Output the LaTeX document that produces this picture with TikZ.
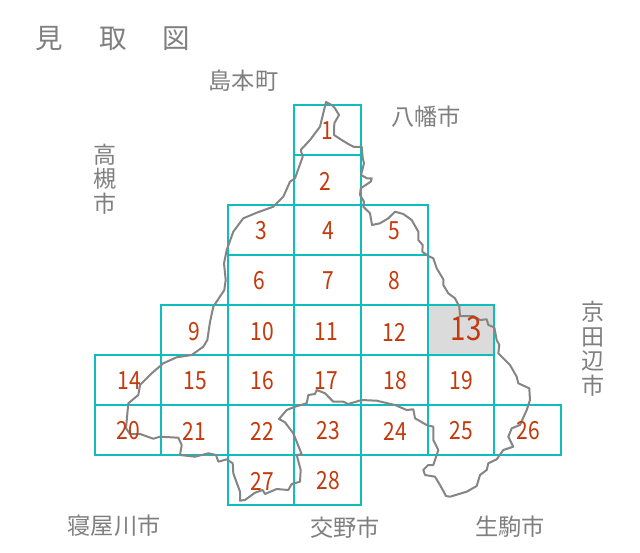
\documentclass[tikz,border=0pt]{standalone}
\usepackage{fontspec}
\setmainfont{Noto Sans CJK JP}
\newfontfamily\numfont[FakeStretch=0.84]{Noto Sans CJK JP}
\definecolor{gridc}{HTML}{10BDBD}
\definecolor{numc}{HTML}{C43A0C}
\definecolor{linec}{HTML}{858585}
\definecolor{labc}{HTML}{7F7F7F}
\definecolor{hilite}{HTML}{DBDBDB}
\tikzset{
  cell/.style={draw=gridc,line width=1.7pt},
  num/.style={text=numc,inner sep=0pt,font=\numfont\fontsize{25}{25}\selectfont},
  bignum/.style={text=numc,inner sep=0pt,font=\numfont\fontsize{33}{33}\selectfont},
  lab/.style={text=labc,inner sep=0pt,font=\fontsize{23.2}{23.2}\selectfont},
  vlab/.style={lab,align=center,font=\fontsize{23}{24.5}\selectfont},
  ttl/.style={text=labc,inner sep=0pt,font=\fontsize{27.5}{27.5}\selectfont},
  outline/.style={draw=linec,line width=2pt,line join=round}
}
\begin{document}
\begin{tikzpicture}[x=1pt,y=-1pt]
\useasboundingbox (0,0) rectangle (640,552);
\fill[white] (0,0) rectangle (640,552);
\fill[hilite] (428,305) rectangle (494,355);
\foreach \xa/\ya/\xb/\yb in {
 294/105/361/155, 294/155/361/205,
 228/205/294/255, 294/205/361/255, 361/205/428/255,
 228/255/294/305, 294/255/361/305, 361/255/428/305,
 161/305/228/355, 228/305/294/355, 294/305/361/355, 361/305/428/355, 428/305/494/355,
 95/355/161/405, 161/355/228/405, 228/355/294/405, 294/355/361/405, 361/355/428/405, 428/355/494/405,
 95/405/161/455, 161/405/228/455, 228/405/294/455, 294/405/361/455, 361/405/428/455, 428/405/494/455, 494/405/561/455,
 228/455/294/505, 294/455/361/505}
 {\draw[cell] (\xa,\ya) rectangle (\xb,\yb);}
\draw[outline] (326,102) -- (331.7,105) -- (335,108.3) -- (339,115) -- (334.3,123.3) -- (334,135) -- (341.7,140) -- (348.3,144) -- (354,147) -- (361.7,146.7) -- (362.7,158) -- (364,163.3) -- (361,175) -- (367,178.3) -- (371.7,178.3) -- (370.7,181.7) -- (360.7,188.3) -- (360,195) -- (364,201.7) -- (363.3,206.7) -- (370,213.3) -- (372,225) -- (380,223.3) -- (388.3,218.3) -- (395,211.7) -- (403.3,214) -- (411.7,220) -- (418.3,231.7) -- (418.3,240) -- (422.7,245) -- (422.3,251.7) -- (428.3,256) -- (433.3,258.3) -- (436.7,268.3) -- (443.3,279.3) -- (443.3,285) -- (448.3,293.3) -- (455,298.3) -- (459.3,306.7) -- (460,316) -- (473.3,316) -- (480,320) -- (486.7,319.3) -- (488.3,325) -- (494.3,327.3) -- (496.7,340) -- (499.3,345) -- (498.3,353.3) -- (510,365) -- (516.7,376.7) -- (518.3,383.3) -- (529.3,388.3) -- (530,400) -- (526.7,410) -- (520,425) -- (511.7,428.3) -- (508.3,436.7) -- (513.3,446.7) -- (503.3,450) -- (496.7,459.3) -- (488.3,463.3) -- (486.7,470) -- (480,475) -- (476.7,486) -- (466.7,491.7) -- (450,496.7) -- (446,496) -- (440,485) -- (435,476.7) -- (425,475) -- (423.3,470) -- (428.3,465) -- (433.3,465) -- (438.3,450) -- (433.3,440) -- (433.3,426.7) -- (426.7,425) -- (415,418.3) -- (413.3,409.3) -- (406.7,410) -- (395,405) -- (376.7,400.7) -- (361.7,400) -- (348.3,404) -- (343.3,401.7) -- (333.3,401.7) -- (325,393.3) -- (316.7,390) -- (315,394) -- (308.3,395) -- (306.7,403.3) -- (295,406.7) -- (286.7,410) -- (279,419) -- (285,422.3) -- (293.3,433.3) -- (301.7,454.3) -- (296.7,455) -- (300.7,470) -- (300,481.7) -- (291.7,484) -- (288.3,490) -- (276.7,489) -- (265,494) -- (262.7,490) -- (255,492.7) -- (245,500) -- (240,500.7) -- (240,491.7) -- (233.3,473.3) -- (232.7,463.3) -- (226.7,459.3) -- (218.3,461.7) -- (216,455) -- (208.3,453.3) -- (195,456.7) -- (180,455) -- (181.7,445) -- (178.3,437.7) -- (160,436.7) -- (153.3,438.7) -- (140,434) -- (130,434) -- (126,428.3) -- (128.3,403.3) -- (138.3,395) -- (140,385) -- (151.7,373.3) -- (163.3,363.3) -- (176.7,357.3) -- (191.7,355) -- (203.3,346.7) -- (207.3,340) -- (210,322) -- (213.3,306.7) -- (224.3,290) -- (225.7,280) -- (224,263.3) -- (226.7,250) -- (233.3,231.7) -- (243.3,218.3) -- (256.7,212.7) -- (273.3,206.7) -- (283.3,196.7) -- (290,181.7) -- (295,178.3) -- (302.7,156.7) -- (300.7,150) -- (310,140) -- (320,126.7) -- cycle;
\foreach \n/\x/\y in {1/327/131, 2/325/181, 3/261/231, 4/328/231, 5/394/231, 6/259/281, 7/328/281, 8/394/281, 9/194/332, 10/262/332, 11/326/332, 12/394/332, 14/129/381, 15/195/381, 16/262/381, 17/326/381, 18/395/381, 19/461/381, 20/128/431, 21/194/431, 22/262/431, 23/328/431, 24/395/431, 25/461/431, 26/528/431, 27/262/481, 28/328/481}
 {\node[num] (n\n) at (\x,\y) {\n};}
\node[bignum] (n13) at (466,329) {13};
\node[ttl,anchor=west] (title) at (35,39) {見\hspace{1.32em}取\hspace{1.32em}図};
\node[lab] (shima) at (243.5,81) {島本町};
\node[lab] (yawata) at (426,117) {八幡市};
\node[vlab] (taka) at (105,179) {高\\槻\\市};
\node[vlab] (kyota) at (593,349) {京\\田\\辺\\市};
\node[lab] (neya) at (114,526) {寝屋川市};
\node[lab] (kata) at (345,528) {交野市};
\node[lab] (ikoma) at (510,527) {生駒市};
\end{tikzpicture}
\end{document}
